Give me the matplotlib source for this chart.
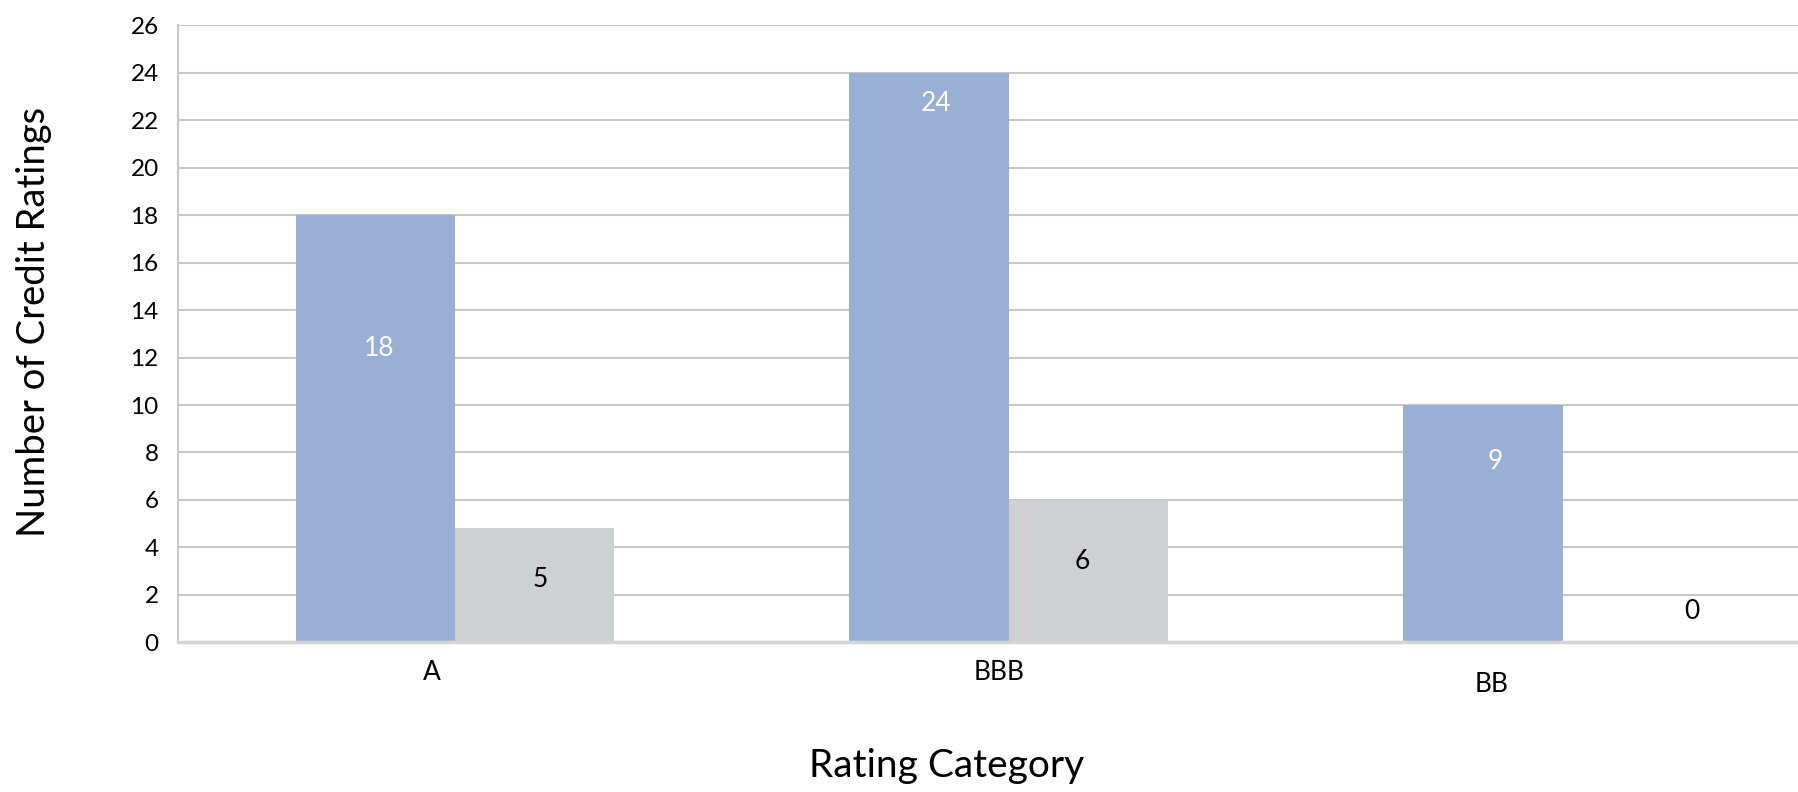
import numpy as np
import matplotlib
matplotlib.use("Agg")
import matplotlib.pyplot as plt

plt.rcParams['font.family'] = ['Lato', 'DejaVu Sans']

categories = ['A', 'BBB', 'BB']
blue_vals = [18, 24, 10]
grey_vals = [4.8, 6, 0]
blue_labels = ['18', '24', '9']
grey_labels = ['5', '6', '0']
yticks = list(range(0, 27, 2))

# where the data labels sit (data units)
blue_label_y = [12.4, 22.7, 7.6]
grey_label_y = [2.65, 3.4, 1.3]
blue_label_dx = [0.007, 0.012, 0.022]
grey_label_dx = [0.01, -0.011, 0.089]
cat_label_dx = [-0.041, -0.017, -0.128]
cat_label_y = [-0.049, -0.049, -0.069]

blue = '#9AAFD4'
grey = '#CFD0D4'
w = 0.288
x = np.arange(len(categories))

fig = plt.figure(figsize=(17.99, 7.92), dpi=100)
ax = fig.add_axes([0.099, 0.189, 0.901, 0.779])

ax.bar(x - w / 2, blue_vals, w, color=blue, zorder=2)
ax.bar(x + w / 2, grey_vals, w, color=grey, zorder=2)

for i in range(len(categories)):
    ax.text(x[i] - w / 2 + blue_label_dx[i], blue_label_y[i], blue_labels[i],
            ha='center', va='center', color='white', fontsize=19, zorder=3)
    ax.text(x[i] + w / 2 + grey_label_dx[i], grey_label_y[i], grey_labels[i],
            ha='center', va='center', color='black', fontsize=19, zorder=3)
    ax.text(x[i] + cat_label_dx[i], cat_label_y[i], categories[i],
            transform=ax.get_xaxis_transform(), ha='center', va='center',
            fontsize=19)

ax.set_xlim(-0.5, 2.427)
ax.set_ylim(0, 26)
ax.set_yticks(yticks)
ax.set_xticks([])
ax.tick_params(axis='y', length=0, pad=14, labelsize=17.5)
ax.yaxis.grid(True, color='#C8C8C8', linewidth=1.5, zorder=0)
ax.set_axisbelow(True)

for s in ['top', 'right']:
    ax.spines[s].set_visible(False)
ax.spines['left'].set_color('#C8C8C8')
ax.spines['left'].set_linewidth(1.5)
ax.spines['bottom'].set_color('#D4D4D4')
ax.spines['bottom'].set_linewidth(2.5)

ax.set_ylabel('Number of Credit Ratings', fontsize=27.5)
ax.yaxis.set_label_coords(-0.078, 0.52)
ax.set_xlabel('Rating Category', fontsize=28)
ax.xaxis.set_label_coords(0.474, -0.172)

fig.savefig('out.png', dpi=100)
